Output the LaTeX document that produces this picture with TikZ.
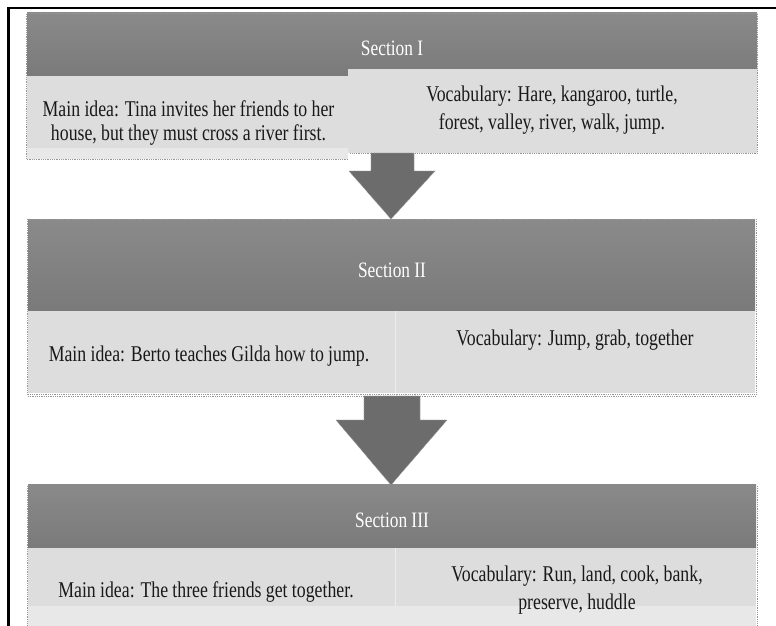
\documentclass[tikz,border=0pt]{standalone}
\usepackage{fontspec}
\setmainfont{Liberation Serif}[FakeStretch=0.79,WordSpace={0.97}]
\definecolor{hdrtop}{RGB}{138,138,138}
\definecolor{hdrbot}{RGB}{122,122,122}
\definecolor{boxgray}{RGB}{221,221,221}
\definecolor{boxlight}{RGB}{232,232,232}
\definecolor{arrgray}{RGB}{108,108,108}
\definecolor{dotgray}{RGB}{150,150,150}
\begin{document}
\begin{tikzpicture}[x=1pt,y=-1pt,
  hdr/.style={top color=hdrtop,bottom color=hdrbot,draw=none},
  lbox/.style={fill=boxgray},
  lband/.style={fill=boxlight},
  blockarrow/.style={fill=arrgray,draw=dotgray,line width=0.6pt,dash pattern=on 0.8pt off 0.8pt},
  outline/.style={draw=dotgray,line width=0.6pt,dash pattern=on 0.8pt off 1pt},
  divider/.style={draw=white!93!black,line width=0.8pt},
  frame/.style={draw=black,line width=2.6pt},
  title/.style={text=white,font=\fontsize{22}{24}\selectfont,inner sep=0pt},
  body/.style={text=black!90,font=\fontsize{22.5}{24}\selectfont,align=center,inner sep=0pt},
  vocab/.style={text=black!90,font=\fontsize{22.5}{27.5}\selectfont,align=center,inner sep=0pt}]
\useasboundingbox (0,0) rectangle (776,626);
\fill[white] (0,0) rectangle (776,626);

% frame
\draw[frame] (8.5,8) -- (776,8);
\draw[frame] (8.5,6.7) -- (8.5,626);

% ---------- Section I
\shade[hdr] (27,13) rectangle (757,76);
\fill[lbox] (348,69) rectangle (757,153);
\fill[lbox] (27,76) rectangle (348,148);
\fill[lband] (27,148) rectangle (348,159);
\draw[outline] (26,14) -- (26,159) -- (348,159);
\draw[outline] (757.5,14) -- (757.5,153) -- (350,153);
\draw[outline] (27,13.5) -- (757,13.5);

% arrow 1
\draw[blockarrow] (371,153) -- (414,153) -- (414,171) -- (435,171) -- (391,219) -- (349,171) -- (371,171) -- cycle;

% ---------- Section II
\shade[hdr] (28,219) rectangle (755,311);
\fill[lbox] (28,311) rectangle (755,393);
\draw[divider] (395,311) -- (395,393);
\draw[outline] (27,219) -- (27,394) -- (756,394) -- (756,219) -- cycle;
\draw[outline] (28,396) -- (364,396);
\draw[outline] (420,396) -- (756,396);

% arrow 2
\draw[blockarrow] (364,396) -- (420,396) -- (420,420) -- (447,420) -- (391,485) -- (336,420) -- (364,420) -- cycle;

% ---------- Section III
\shade[hdr] (28,484) rectangle (756,548);
\fill[lbox] (28,548) rectangle (756,606);
\fill[lband] (28,606) rectangle (756,626);
\draw[divider] (395,548) -- (395,606);
\draw[outline] (27,486) -- (27,626);
\draw[outline] (757,486) -- (757,626);

% ---------- texts
\node[title,anchor=base] (t1) at (392,56) {Section I};
\node[body] (m1) at (188.5,123) {Main idea: Tina invites her friends to her\\house, but they must cross a river first.};
\node[vocab] (v1) at (552,110) {Vocabulary: Hare, kangaroo, turtle,\\forest, valley, river, walk, jump.};

\node[title,anchor=base] (t2) at (392,277) {Section II};
\node[body,anchor=base] (m2) at (209,361) {Main idea: Berto teaches Gilda how to jump.};
\node[body,anchor=base] (v2) at (575,345) {Vocabulary: Jump, grab, together};

\node[title,anchor=base] (t3) at (392,527) {Section III};
\node[body,anchor=base] (m3) at (206,597) {Main idea: The three friends get together.};
\node[vocab] (v3) at (577,590) {Vocabulary: Run, land, cook, bank,\\preserve, huddle};
\end{tikzpicture}
\end{document}
